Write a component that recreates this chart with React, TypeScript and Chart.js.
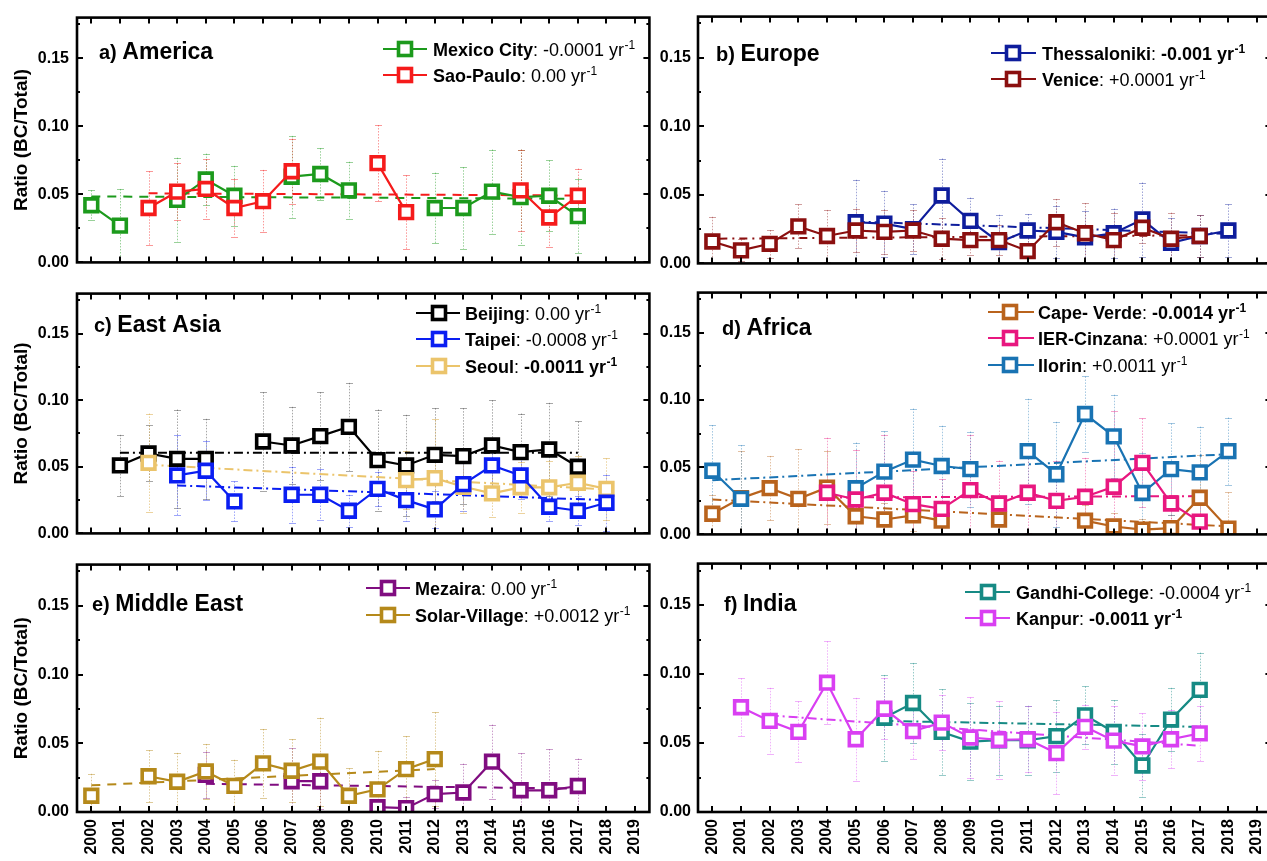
import React, { useEffect, useRef } from 'react';
import { Chart, registerables } from 'chart.js';

Chart.register(...registerables);
Chart.defaults.font.family = '"Liberation Sans", Arial, sans-serif';

// ---------------- data ----------------
const years = [2000, 2001, 2002, 2003, 2004, 2005, 2006, 2007, 2008, 2009, 2010, 2011, 2012, 2013, 2014, 2015, 2016, 2017, 2018, 2019];
const yTickValues = [0, 0.05, 0.1, 0.15];
const yMinorValues = [0.025, 0.075, 0.125, 0.175];
const yAxisTitle = 'Ratio (BC/Total)';

// a) America
const mexicoCity = [0.042, 0.027, null, 0.046, 0.061, 0.049, null, 0.063, 0.065, 0.053, null, null, 0.040, 0.040, 0.052, 0.048, 0.049, 0.034, null, null];
const mexicoCityErr = [0.011, 0.027, null, 0.031, 0.019, 0.022, null, 0.030, 0.019, 0.021, null, null, 0.026, 0.030, 0.031, 0.035, 0.026, 0.027, null, null];
const mexicoCityTrendX = [2000, 2017];
const mexicoCityTrendY = [0.0485, 0.0468];
const saoPaulo = [null, null, 0.040, 0.052, 0.054, 0.040, 0.045, 0.067, null, null, 0.073, 0.037, null, null, null, 0.053, 0.033, 0.049, null, null];
const saoPauloErr = [null, null, 0.027, 0.021, 0.022, 0.021, 0.023, 0.024, null, null, 0.028, 0.027, null, null, null, 0.030, 0.022, 0.020, null, null];
const saoPauloTrendX = [2002, 2017];
const saoPauloTrendY = [0.0508, 0.0492];

// b) Europe
const thessaloniki = [null, null, null, null, null, 0.030, 0.029, 0.025, 0.0495, 0.031, 0.0155, 0.024, 0.023, 0.019, 0.022, 0.032, 0.015, 0.020, 0.024, null];
const thessalonikiErr = [null, null, null, null, null, 0.031, 0.024, 0.018, 0.027, 0.017, 0.020, 0.012, 0.019, 0.019, 0.018, 0.027, 0.018, 0.015, 0.019, null];
const thessalonikiTrendX = [2005, 2018];
const thessalonikiTrendY = [0.0305, 0.0215];
const venice = [0.016, 0.0095, 0.0143, 0.027, 0.020, 0.024, 0.023, 0.024, 0.018, 0.017, 0.017, 0.009, 0.030, 0.022, 0.017, 0.026, 0.018, 0.020, null, null];
const veniceErr = [0.018, 0.008, 0.010, 0.016, 0.019, 0.016, 0.016, 0.015, 0.015, 0.011, 0.011, 0.016, 0.017, 0.022, 0.020, 0.011, 0.019, 0.015, null, null];
const veniceTrendX = [2000, 2017];
const veniceTrendY = [0.018, 0.0205];

// c) East Asia
const beijing = [null, 0.051, 0.060, 0.056, 0.056, null, 0.069, 0.066, 0.073, 0.080, 0.055, 0.051, 0.059, 0.058, 0.066, 0.061, 0.063, 0.050, null, null];
const beijingErr = [null, 0.023, 0.021, 0.037, 0.030, null, 0.037, 0.029, 0.033, 0.033, 0.038, 0.038, 0.035, 0.036, 0.034, 0.029, 0.035, 0.034, null, null];
const beijingTrendX = [2001, 2017];
const beijingTrendY = [0.0605, 0.0605];
const taipei = [null, null, null, 0.0435, 0.047, 0.024, null, 0.029, 0.029, 0.017, 0.0334, 0.025, 0.018, 0.037, 0.051, 0.0435, 0.020, 0.017, 0.023, null];
const taipeiErr = [null, null, null, 0.030, 0.022, 0.015, null, 0.021, 0.019, 0.012, 0.013, 0.016, 0.014, 0.020, 0.016, 0.018, 0.011, 0.011, 0.021, null];
const taipeiTrendX = [2003, 2018];
const taipeiTrendY = [0.036, 0.025];
const seoul = [null, null, 0.053, null, null, null, null, null, null, null, null, 0.040, 0.0415, 0.035, 0.030, 0.0346, 0.0346, 0.038, 0.0334, null];
const seoulErr = [null, null, 0.037, null, null, null, null, null, null, null, null, 0.022, 0.044, 0.020, 0.018, 0.019, 0.020, 0.020, 0.023, null];
const seoulTrendX = [2002, 2018];
const seoulTrendY = [0.0515, 0.033];

// d) Africa
const capeVerde = [0.0154, 0.027, 0.0344, 0.0265, 0.0348, 0.0135, 0.0111, 0.0142, 0.0102, null, 0.0111, null, null, 0.0102, 0.0059, 0.0036, 0.0047, 0.0273, 0.0043, null];
const capeVerdeErr = [0.014, 0.035, 0.024, 0.037, 0.027, 0.015, 0.012, 0.012, 0.012, null, 0.012, null, null, 0.012, 0.010, 0.008, 0.010, 0.032, 0.027, null];
const capeVerdeTrendX = [2000, 2018];
const capeVerdeTrendY = [0.026, 0.006];
const ierCinzana = [null, null, null, null, 0.031, 0.026, 0.031, 0.0225, 0.019, 0.033, 0.023, 0.031, 0.025, 0.028, 0.0355, 0.0533, 0.023, 0.0095, null, null];
const ierCinzanaErr = [null, null, null, null, 0.041, 0.037, 0.043, 0.025, 0.022, 0.041, 0.032, 0.030, 0.030, 0.029, 0.056, 0.033, 0.025, 0.020, null, null];
const ierCinzanaTrendX = [2004, 2017];
const ierCinzanaTrendY = [0.0275, 0.0285];
const ilorin = [0.0474, 0.0265, null, null, null, 0.0344, 0.0467, 0.0557, 0.0509, 0.0486, null, 0.062, 0.0448, 0.0896, 0.073, 0.0308, 0.0486, 0.0462, 0.062, null];
const ilorinErr = [0.034, 0.040, null, null, null, 0.034, 0.030, 0.038, 0.030, 0.028, null, 0.039, 0.039, 0.028, 0.031, 0.030, 0.034, 0.034, 0.025, null];
const ilorinTrendX = [2000, 2018];
const ilorinTrendY = [0.0403, 0.0597];

// e) Middle East
const mezaira = [null, null, null, null, 0.027, null, null, 0.0224, 0.0224, null, 0.0035, 0.0028, 0.013, 0.0142, 0.0366, 0.0158, 0.0158, 0.0189, null, null];
const mezairaErr = [null, null, null, null, 0.017, null, null, 0.024, 0.020, null, 0.006, 0.008, 0.010, 0.021, 0.027, 0.027, 0.030, 0.020, null, null];
const mezairaTrendX = [2004, 2017];
const mezairaTrendY = [0.0205, 0.017];
const solarVillage = [0.0118, null, 0.026, 0.022, 0.0295, 0.019, 0.0354, 0.030, 0.0366, 0.0118, 0.0165, 0.0312, 0.0385, null, null, null, null, null, null, null];
const solarVillageErr = [0.016, null, 0.019, 0.021, 0.020, 0.019, 0.025, 0.023, 0.032, 0.020, 0.028, 0.024, 0.034, null, null, null, null, null, null, null];
const solarVillageTrendX = [2000, 2012];
const solarVillageTrendY = [0.0194, 0.0312];

// f) India
const gandhiCollege = [null, null, null, null, null, null, 0.0683, 0.079, 0.058, 0.051, 0.052, 0.052, 0.055, 0.070, 0.058, 0.0337, 0.067, 0.0885, null, null];
const gandhiCollegeErr = [null, null, null, null, null, null, 0.031, 0.029, 0.031, 0.028, 0.025, 0.025, 0.026, 0.021, 0.023, 0.023, 0.023, 0.027, null, null];
const gandhiCollegeTrendX = [2006, 2017];
const gandhiCollegeTrendY = [0.066, 0.0617];
const kanpur = [null, 0.0759, 0.066, 0.0581, 0.0937, 0.0527, 0.0748, 0.0586, 0.0648, 0.054, 0.0522, 0.0527, 0.0427, 0.0617, 0.0517, 0.0475, 0.0527, 0.057, null, null];
const kanpurErr = [null, 0.021, 0.024, 0.022, 0.030, 0.030, 0.022, 0.020, 0.020, 0.029, 0.028, 0.024, 0.030, 0.016, 0.025, 0.024, 0.021, 0.020, null, null];
const kanpurTrendX = [2002, 2017];
const kanpurTrendY = [0.070, 0.048];

// ---------------- styling / layout ----------------
const FONT = '"Liberation Sans", Arial, sans-serif';
const DASH = [9, 7];
const DASHDOT = [9, 4, 2, 4];

type Series = {
  label: string; rate: string; sig: boolean;
  values: (number | null)[]; errors: (number | null)[];
  trendX: number[]; trendY: number[];
  color: string; errColor: string; dash: number[]; z: number;
};
type Panel = {
  prefix: string; name: string; row: number; col: number;
  titleX: number; titleY: number;
  legLine: [number, number]; legMarker: number; legText: number; legRows: number[];
  series: Series[];
};

const panels: Panel[] = [
  {
    prefix: 'a)', name: 'America', row: 0, col: 0, titleX: 99, titleY: 51,
    legLine: [383, 427], legMarker: 405, legText: 433, legRows: [49, 75],
    series: [
      { label: 'Mexico City', rate: '-0.0001', sig: false, values: mexicoCity, errors: mexicoCityErr, trendX: mexicoCityTrendX, trendY: mexicoCityTrendY, color: '#1c9a1c', errColor: 'rgba(28,154,28,0.45)', dash: DASH, z: 2 },
      { label: 'Sao-Paulo', rate: '0.00', sig: false, values: saoPaulo, errors: saoPauloErr, trendX: saoPauloTrendX, trendY: saoPauloTrendY, color: '#f51b1b', errColor: 'rgba(245,27,27,0.45)', dash: DASH, z: 1 },
    ],
  },
  {
    prefix: 'b)', name: 'Europe', row: 0, col: 1, titleX: 716, titleY: 53,
    legLine: [991, 1036], legMarker: 1013, legText: 1042, legRows: [53, 79],
    series: [
      { label: 'Thessaloniki', rate: '-0.001', sig: true, values: thessaloniki, errors: thessalonikiErr, trendX: thessalonikiTrendX, trendY: thessalonikiTrendY, color: '#0e1d9c', errColor: 'rgba(14,29,156,0.4)', dash: DASHDOT, z: 2 },
      { label: 'Venice', rate: '+0.0001', sig: false, values: venice, errors: veniceErr, trendX: veniceTrendX, trendY: veniceTrendY, color: '#8b0f0f', errColor: 'rgba(139,15,15,0.4)', dash: [2, 5, 8, 5], z: 1 },
    ],
  },
  {
    prefix: 'c)', name: 'East Asia', row: 1, col: 0, titleX: 94, titleY: 324,
    legLine: [416, 460], legMarker: 439, legText: 465, legRows: [313, 339, 366],
    series: [
      { label: 'Beijing', rate: '0.00', sig: false, values: beijing, errors: beijingErr, trendX: beijingTrendX, trendY: beijingTrendY, color: '#000000', errColor: 'rgba(60,60,60,0.45)', dash: DASHDOT, z: 3 },
      { label: 'Taipei', rate: '-0.0008', sig: false, values: taipei, errors: taipeiErr, trendX: taipeiTrendX, trendY: taipeiTrendY, color: '#0a1ef2', errColor: 'rgba(10,30,242,0.4)', dash: DASHDOT, z: 1 },
      { label: 'Seoul', rate: '-0.0011', sig: true, values: seoul, errors: seoulErr, trendX: seoulTrendX, trendY: seoulTrendY, color: '#ebc46b', errColor: 'rgba(220,175,80,0.55)', dash: DASHDOT, z: 2 },
    ],
  },
  {
    prefix: 'd)', name: 'Africa', row: 1, col: 1, titleX: 722, titleY: 327,
    legLine: [988, 1034], legMarker: 1010, legText: 1038, legRows: [312, 338, 365],
    series: [
      { label: 'Cape- Verde', rate: '-0.0014', sig: true, values: capeVerde, errors: capeVerdeErr, trendX: capeVerdeTrendX, trendY: capeVerdeTrendY, color: '#b9631c', errColor: 'rgba(185,99,28,0.4)', dash: DASHDOT, z: 3 },
      { label: 'IER-Cinzana', rate: '+0.0001', sig: false, values: ierCinzana, errors: ierCinzanaErr, trendX: ierCinzanaTrendX, trendY: ierCinzanaTrendY, color: '#e8177f', errColor: 'rgba(232,23,127,0.4)', dash: DASHDOT, z: 1 },
      { label: 'Ilorin', rate: '+0.0011', sig: false, values: ilorin, errors: ilorinErr, trendX: ilorinTrendX, trendY: ilorinTrendY, color: '#1973b3', errColor: 'rgba(25,115,179,0.4)', dash: DASHDOT, z: 2 },
    ],
  },
  {
    prefix: 'e)', name: 'Middle East', row: 2, col: 0, titleX: 92, titleY: 603,
    legLine: [366, 410], legMarker: 388, legText: 415, legRows: [588, 615],
    series: [
      { label: 'Mezaira', rate: '0.00', sig: false, values: mezaira, errors: mezairaErr, trendX: mezairaTrendX, trendY: mezairaTrendY, color: '#800d80', errColor: 'rgba(128,13,128,0.4)', dash: DASH, z: 2 },
      { label: 'Solar-Village', rate: '+0.0012', sig: false, values: solarVillage, errors: solarVillageErr, trendX: solarVillageTrendX, trendY: solarVillageTrendY, color: '#b5891a', errColor: 'rgba(181,137,26,0.45)', dash: DASH, z: 1 },
    ],
  },
  {
    prefix: 'f)', name: 'India', row: 2, col: 1, titleX: 724, titleY: 603,
    legLine: [965, 1010], legMarker: 988, legText: 1016, legRows: [592, 618],
    series: [
      { label: 'Gandhi-College', rate: '-0.0004', sig: false, values: gandhiCollege, errors: gandhiCollegeErr, trendX: gandhiCollegeTrendX, trendY: gandhiCollegeTrendY, color: '#168a84', errColor: 'rgba(22,138,132,0.45)', dash: DASHDOT, z: 2 },
      { label: 'Kanpur', rate: '-0.0011', sig: true, values: kanpur, errors: kanpurErr, trendX: kanpurTrendX, trendY: kanpurTrendY, color: '#d93ff2', errColor: 'rgba(217,63,242,0.4)', dash: DASHDOT, z: 1 },
    ],
  },
];

const rowTop = [0, 276, 547];
const rowH = [280, 275, 314];
const rowPadTop = [15, 10, 10];
const rowAxisH = [10, 10, 49];
const colLeft = [0, 654];
const colW = [662, 630];
const colAxisW = [77, 44];
const colPadRight = [10, 10];

function PanelChart({ p }: { p: Panel }) {
  const ref = useRef<HTMLCanvasElement | null>(null);
  const left = colLeft[p.col];
  const top = rowTop[p.row];
  const W = colW[p.col];
  const H = rowH[p.row];

  useEffect(() => {
    const canvas = ref.current;
    if (!canvas) return;

    const datasets: any[] = [];
    p.series.forEach((s) => {
      datasets.push({
        type: 'line',
        label: s.label,
        data: years.map((yr, i) => ({ x: yr, y: s.values[i] })),
        borderColor: s.color,
        borderWidth: 2.2,
        pointStyle: 'rect',
        pointRadius: 9,
        pointBorderWidth: 3.6,
        pointBackgroundColor: '#ffffff',
        pointBorderColor: s.color,
        spanGaps: false,
        order: s.z,
        errors: s.errors,
        errColor: s.errColor,
      });
      datasets.push({
        type: 'line',
        label: s.label + ' trend',
        data: s.trendX.map((x, i) => ({ x, y: s.trendY[i] })),
        borderColor: s.color,
        borderWidth: 2,
        borderDash: s.dash,
        pointRadius: 0,
        order: 50 + s.z,
      });
    });

    const decor = {
      id: 'decor',
      beforeDatasetsDraw(chart: any) {
        const ctx = chart.ctx;
        const xs = chart.scales.x;
        const ys = chart.scales.y;
        ctx.save();
        chart.data.datasets.forEach((ds: any) => {
          if (!ds.errors) return;
          ds.data.forEach((pt: any, i: number) => {
            const e = ds.errors[i];
            if (pt.y == null || e == null) return;
            const px = Math.round(xs.getPixelForValue(pt.x)) + 0.5;
            const yTop = ys.getPixelForValue(pt.y + e);
            const yBot = ys.getPixelForValue(Math.max(0, pt.y - e));
            ctx.strokeStyle = ds.errColor;
            ctx.lineWidth = 1;
            ctx.setLineDash([1.5, 1.5]);
            ctx.beginPath();
            ctx.moveTo(px, yTop);
            ctx.lineTo(px, yBot);
            ctx.stroke();
            ctx.setLineDash([]);
            ctx.beginPath();
            ctx.moveTo(px - 3.5, Math.round(yTop) + 0.5);
            ctx.lineTo(px + 3.5, Math.round(yTop) + 0.5);
            ctx.moveTo(px - 3.5, Math.round(yBot) + 0.5);
            ctx.lineTo(px + 3.5, Math.round(yBot) + 0.5);
            ctx.stroke();
          });
        });
        ctx.restore();
      },
      afterDraw(chart: any) {
        const ctx = chart.ctx;
        const a = chart.chartArea;
        const xs = chart.scales.x;
        const ys = chart.scales.y;
        ctx.save();
        // frame
        ctx.strokeStyle = '#000';
        ctx.lineWidth = 2.6;
        ctx.setLineDash([]);
        ctx.strokeRect(a.left, a.top, a.right - a.left, a.bottom - a.top);
        // inward ticks
        ctx.lineWidth = 2;
        ctx.beginPath();
        years.forEach((yr) => {
          const px = Math.round(xs.getPixelForValue(yr));
          ctx.moveTo(px, a.bottom);
          ctx.lineTo(px, a.bottom - 6);
          ctx.moveTo(px, a.top);
          ctx.lineTo(px, a.top + 6);
        });
        yTickValues.forEach((v) => {
          const py = Math.round(ys.getPixelForValue(v));
          ctx.moveTo(a.left, py);
          ctx.lineTo(a.left + 6, py);
          ctx.moveTo(a.right, py);
          ctx.lineTo(a.right - 6, py);
        });
        yMinorValues.forEach((v) => {
          const py = Math.round(ys.getPixelForValue(v));
          ctx.moveTo(a.left, py);
          ctx.lineTo(a.left + 3, py);
          ctx.moveTo(a.right, py);
          ctx.lineTo(a.right - 3, py);
        });
        ctx.stroke();

        // panel title
        ctx.fillStyle = '#000';
        ctx.textBaseline = 'alphabetic';
        ctx.textAlign = 'left';
        const tx = p.titleX - left;
        const ty = p.titleY - top + 8;
        ctx.font = `bold 20px ${FONT}`;
        ctx.fillText(p.prefix, tx, ty);
        const pw = ctx.measureText(p.prefix + ' ').width;
        ctx.font = `bold 23px ${FONT}`;
        ctx.fillText(p.name, tx + pw, ty);

        // legend
        p.series.forEach((s, i) => {
          const cy = p.legRows[i] - top;
          const x0 = p.legLine[0] - left;
          const x1 = p.legLine[1] - left;
          const mx = p.legMarker - left;
          ctx.strokeStyle = s.color;
          ctx.lineWidth = 2.2;
          ctx.beginPath();
          ctx.moveTo(x0, cy);
          ctx.lineTo(x1, cy);
          ctx.stroke();
          ctx.fillStyle = '#fff';
          ctx.fillRect(mx - 6.5, cy - 6.5, 13, 13);
          ctx.lineWidth = 3.6;
          ctx.strokeRect(mx - 6.5, cy - 6.5, 13, 13);

          ctx.fillStyle = '#000';
          let x = p.legText - left;
          const by = cy + 6.5;
          ctx.font = `bold 18px ${FONT}`;
          ctx.fillText(s.label, x, by);
          x += ctx.measureText(s.label).width;
          ctx.font = `18px ${FONT}`;
          ctx.fillText(': ', x, by);
          x += ctx.measureText(': ').width;
          const w = s.sig ? 'bold ' : '';
          ctx.font = `${w}18px ${FONT}`;
          const vt = s.rate + ' yr';
          ctx.fillText(vt, x, by);
          x += ctx.measureText(vt).width;
          ctx.font = `${w}12px ${FONT}`;
          ctx.fillText('-1', x + 0.5, by - 7);
        });
        ctx.restore();
      },
    };

    const chart = new Chart(canvas, {
      type: 'line',
      data: { datasets },
      options: {
        responsive: false,
        maintainAspectRatio: false,
        animation: false,
        devicePixelRatio: 1,
        events: [],
        layout: { padding: { top: rowPadTop[p.row], right: colPadRight[p.col], left: 0, bottom: 0 } },
        plugins: { legend: { display: false }, tooltip: { enabled: false } },
        scales: {
          x: {
            type: 'linear',
            min: 1999.5,
            max: 2019.5,
            grid: { display: false, drawTicks: false },
            border: { display: false },
            ticks: {
              display: p.row === 2,
              minRotation: 90,
              maxRotation: 90,
              autoSkip: false,
              padding: 7,
              color: '#000',
              font: { family: FONT, size: 16, weight: 'bold' },
              callback: (v: any) => String(v),
            },
            afterBuildTicks: (s: any) => { s.ticks = years.map((v) => ({ value: v })); },
            afterFit: (s: any) => { s.height = rowAxisH[p.row]; },
          },
          y: {
            type: 'linear',
            min: 0,
            max: 0.18,
            grid: { display: false, drawTicks: false },
            border: { display: false },
            ticks: {
              padding: p.col === 0 ? 8 : 7,
              color: '#000',
              font: { family: FONT, size: 16, weight: 'bold' },
              callback: (v: any) => Number(v).toFixed(2),
            },
            afterBuildTicks: (s: any) => { s.ticks = yTickValues.map((v) => ({ value: v })); },
            afterFit: (s: any) => { s.width = colAxisW[p.col]; },
            title: {
              display: p.col === 0,
              text: yAxisTitle,
              color: '#000',
              font: { family: FONT, size: 19, weight: 'bold' },
              padding: { top: 10, bottom: 0 },
            },
          },
        },
      } as any,
      plugins: [decor],
    });
    return () => chart.destroy();
  }, []);

  return (
    <canvas
      ref={ref}
      width={W}
      height={H}
      style={{ position: 'absolute', left, top, width: W, height: H }}
    />
  );
}

export default function App() {
  return (
    <div style={{ position: 'fixed', left: 0, top: 0, width: 1267, height: 861, overflow: 'hidden', background: '#fff' }}>
      {panels.map((p) => (
        <PanelChart key={p.prefix} p={p} />
      ))}
    </div>
  );
}
